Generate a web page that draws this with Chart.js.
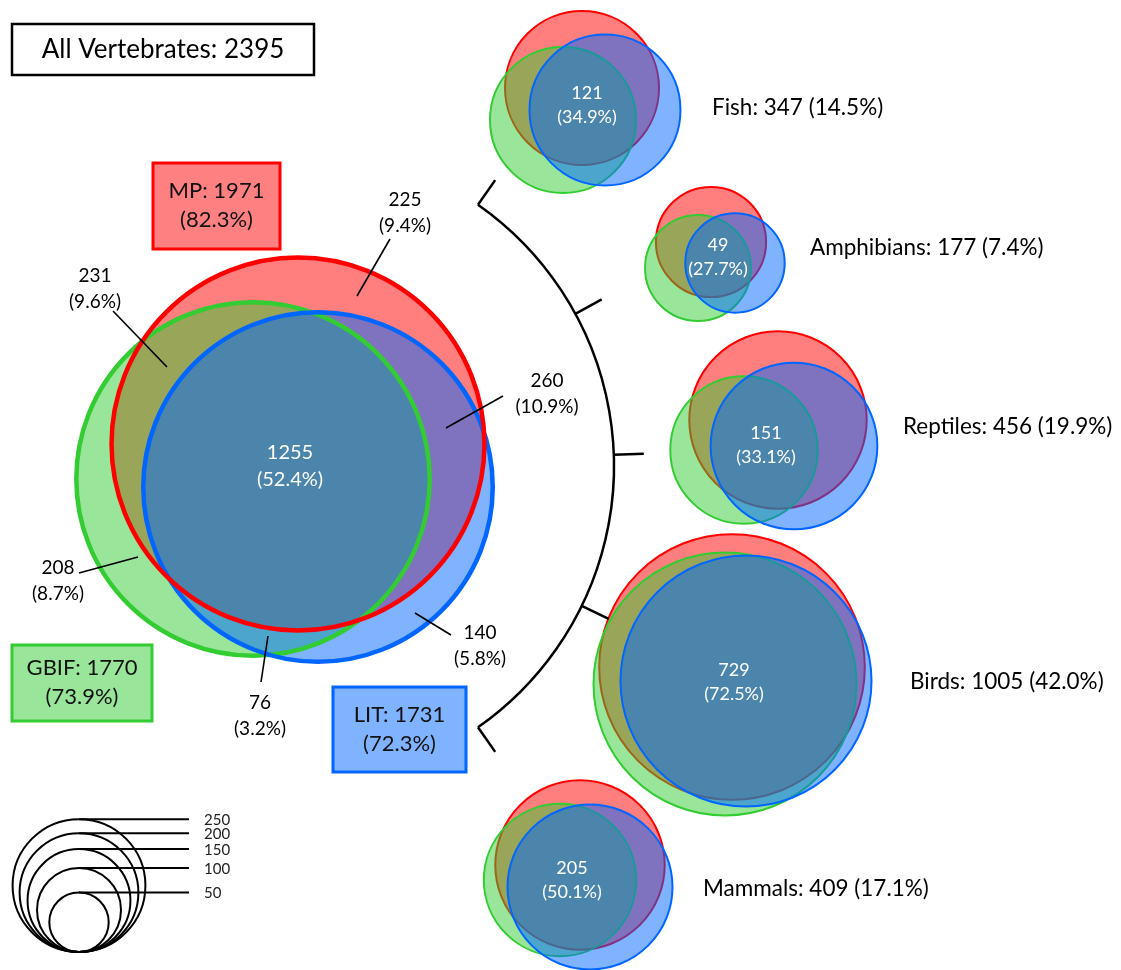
<!DOCTYPE html>
<html>
<head>
<meta charset="utf-8">
<title>Vertebrate species by data source</title>
<script src="https://cdn.jsdelivr.net/npm/chart.js@4/dist/chart.umd.min.js"></script>
<style>
  html, body { margin: 0; padding: 0; background: #fff; }
  #wrap { width: 1121px; height: 970px; position: relative; }
</style>
</head>
<body>
<div id="wrap"><canvas id="vennChart"></canvas></div>
<script>
// ---- data (species counts) ----
const groups = ["All Vertebrates", "Fish", "Amphibians", "Reptiles", "Birds", "Mammals"];
const totals = [2395, 347, 177, 456, 1005, 409];
const totalPct = [100, 14.5, 7.4, 19.9, 42.0, 17.1];
// per source counts, taxa values estimated from circle size
const mpCounts = [1971, 336, 172, 446, 1000, 407];
const gbifCounts = [1770, 302, 159, 308, 980, 329];
const litCounts = [1731, 323, 140, 394, 893, 386];
const allThree = [1255, 121, 49, 151, 729, 205];
const allThreePct = [52.4, 34.9, 27.7, 33.1, 72.5, 50.1];
const sourceNames = ["MP", "GBIF", "LIT"];
const sourcePct = [82.3, 73.9, 72.3];
// other regions of the big diagram: MP only, MP+GBIF, MP+LIT, GBIF only, GBIF+LIT, LIT only
const regionCounts = [225, 231, 260, 208, 76, 140];
const regionPct = [9.4, 9.6, 10.9, 8.7, 3.2, 5.8];
const legendSizes = [250, 200, 150, 100, 50];

// ---- layout (axes run 0..1121 / 0..970, one unit per pixel) ----
const K = 4.2; // units per sqrt(species), so circle area ~ count
const mpPos = [[298, 444], [582, 88], [711, 242], [778, 420], [732, 667], [580, 865]];
const gbifPos = [[253, 479], [563, 120], [698, 268], [744, 450], [725, 684], [560, 880]];
const litPos = [[318, 487], [605, 110], [735, 263], [794, 446], [746, 681], [590, 887]];
const centreLabelPos = [[290, 453], [587, 93], [718, 245], [766, 433], [734, 670], [572, 868]];
const taxonLabelPos = [null, [712, 108], [810, 248], [903, 427], [910, 682], [703, 889]];
const regionLabelPos = [[405, 200], [95, 276], [547, 381], [58, 568], [260, 703], [480, 633]];
const leaders = [
  [[390, 239], [357, 296]],
  [[113, 311], [167, 367]],
  [[503, 396], [446, 428]],
  [[79, 573], [138, 557]],
  [[261, 682], [268, 636]],
  [[415, 613], [451, 635]]
];
const boxes = [[153, 163, 127, 86], [12, 645, 140, 76], [333, 687, 133, 85]];
const legendX = 79, legendBottom = 952;

const RED = "rgb(255,0,0)", GREEN = "rgb(51,204,51)", BLUE = "rgb(0,102,255)";
const RED_A = "rgba(255,0,0,0.5)", GREEN_A = "rgba(51,204,51,0.5)", BLUE_A = "rgba(0,102,255,0.5)";
const FONT = "Lato, 'Open Sans', sans-serif";

// bubbles would otherwise pad the chart area by their radius; keep axes 1:1 with the canvas
Chart.controllers.bubble.prototype.getMaxOverflow = function () {
  return false;
};

const rOf = (n) => K * Math.sqrt(n);
const points = (pos, counts) => pos.map((p, i) => ({ x: p[0], y: p[1], r: rOf(counts[i]) }));

const fillSet = (label, pos, counts, fill, stroke, order) => ({
  label: label,
  data: points(pos, counts),
  backgroundColor: fill,
  borderColor: stroke,
  borderWidth: counts.map((c, i) => (i === 0 ? 0 : 2)),
  order: order
});

const outlineSet = (label, pos, count, stroke, order) => ({
  label: label,
  data: [{ x: pos[0], y: pos[1], r: rOf(count) }],
  backgroundColor: "rgba(0,0,0,0)",
  borderColor: stroke,
  borderWidth: 4.5,
  order: order
});

// text, boxes, leader lines and the bracket
const overlay = {
  id: "overlay",
  afterDatasetsDraw(chart) {
    const ctx = chart.ctx;
    const xs = chart.scales.x, ys = chart.scales.y;
    const X = (v) => xs.getPixelForValue(v), Y = (v) => ys.getPixelForValue(v);
    const len = (v) => Math.abs(X(v) - X(0));
    ctx.save();
    ctx.textAlign = "center";
    ctx.textBaseline = "middle";

    // title box
    ctx.lineWidth = 2.5;
    ctx.strokeStyle = "#000";
    ctx.strokeRect(X(12), Y(24), len(302), len(51));
    ctx.fillStyle = "#000";
    ctx.font = "26px " + FONT;
    ctx.fillText(groups[0] + ": " + totals[0], X(163), Y(50));

    // source boxes
    const counts = [mpCounts[0], gbifCounts[0], litCounts[0]];
    const fills = ["rgb(255,128,128)", "rgb(153,229,153)", "rgb(128,179,255)"];
    const strokes = [RED, GREEN, BLUE];
    boxes.forEach((b, i) => {
      ctx.fillStyle = fills[i];
      ctx.fillRect(X(b[0]), Y(b[1]), len(b[2]), len(b[3]));
      ctx.lineWidth = 3;
      ctx.strokeStyle = strokes[i];
      ctx.strokeRect(X(b[0]), Y(b[1]), len(b[2]), len(b[3]));
      ctx.fillStyle = "#111";
      ctx.font = "22px " + FONT;
      const cx = b[0] + b[2] / 2, cy = b[1] + b[3] / 2;
      ctx.fillText(sourceNames[i] + ": " + counts[i], X(cx), Y(cy - 15));
      ctx.fillText("(" + sourcePct[i].toFixed(1) + "%)", X(cx), Y(cy + 14));
    });

    // leader lines + region labels
    ctx.strokeStyle = "#000";
    ctx.lineWidth = 1.6;
    leaders.forEach((l) => {
      ctx.beginPath();
      ctx.moveTo(X(l[0][0]), Y(l[0][1]));
      ctx.lineTo(X(l[1][0]), Y(l[1][1]));
      ctx.stroke();
    });
    ctx.fillStyle = "#000";
    ctx.font = "19px " + FONT;
    regionCounts.forEach((v, i) => {
      const p = regionLabelPos[i];
      ctx.fillText(String(v), X(p[0]), Y(p[1]));
      ctx.fillText("(" + regionPct[i].toFixed(1) + "%)", X(p[0]), Y(p[1] + 26));
    });

    // centre labels (all three sources)
    ctx.fillStyle = "#fff";
    allThree.forEach((v, i) => {
      const p = centreLabelPos[i];
      const gap = i === 0 ? 27 : 24;
      ctx.font = (i === 0 ? "20px " : "18px ") + FONT;
      ctx.fillText(String(v), X(p[0]), Y(p[1]));
      ctx.fillText("(" + allThreePct[i].toFixed(1) + "%)", X(p[0]), Y(p[1] + gap));
    });

    // taxon labels
    ctx.fillStyle = "#000";
    ctx.textAlign = "left";
    ctx.font = "22.5px " + FONT;
    for (let i = 1; i < groups.length; i++) {
      const p = taxonLabelPos[i];
      ctx.fillText(groups[i] + ": " + totals[i] + " (" + totalPct[i].toFixed(1) + "%)", X(p[0]), Y(p[1]));
    }

    // bracket arc with ticks
    const bc = [295, 466], br = len(319), tick = len(30);
    const ticks = [-55, -28.5, -2, 26, 55];
    ctx.lineWidth = 2.5;
    ctx.strokeStyle = "#000";
    ctx.beginPath();
    ctx.arc(X(bc[0]), Y(bc[1]), br, -55 * Math.PI / 180, 55 * Math.PI / 180);
    ctx.stroke();
    ticks.forEach((a) => {
      const t = a * Math.PI / 180;
      ctx.beginPath();
      ctx.moveTo(X(bc[0]) + br * Math.cos(t), Y(bc[1]) + br * Math.sin(t));
      ctx.lineTo(X(bc[0]) + (br + tick) * Math.cos(t), Y(bc[1]) + (br + tick) * Math.sin(t));
      ctx.stroke();
    });

    // size legend lines + labels
    ctx.lineWidth = 2;
    ctx.font = "15px " + FONT;
    ctx.fillStyle = "#222";
    legendSizes.forEach((s) => {
      const top = Y(legendBottom - 2 * rOf(s));
      ctx.beginPath();
      ctx.moveTo(X(legendX), top);
      ctx.lineTo(X(189), top);
      ctx.stroke();
      ctx.fillText(String(s), X(204), top + 1);
    });
    ctx.restore();
  }
};

const ctx = document.getElementById("vennChart");

new Chart(ctx, {
  type: "bubble",
  data: {
    datasets: [
      fillSet("MP", mpPos, mpCounts, RED_A, RED, 12),
      fillSet("GBIF", gbifPos, gbifCounts, GREEN_A, GREEN, 11),
      fillSet("LIT", litPos, litCounts, BLUE_A, BLUE, 10),
      outlineSet("GBIF outline", gbifPos[0], gbifCounts[0], GREEN, 3),
      outlineSet("LIT outline", litPos[0], litCounts[0], BLUE, 2),
      outlineSet("MP outline", mpPos[0], mpCounts[0], RED, 1),
      {
        label: "Scale",
        data: legendSizes.map((s) => ({ x: legendX, y: legendBottom - rOf(s), r: rOf(s) })),
        backgroundColor: "rgba(0,0,0,0)",
        borderColor: "#000",
        borderWidth: 2,
        order: 0
      }
    ]
  },
  options: {
    responsive: true,
    maintainAspectRatio: false,
    animation: false,
    events: [],
    layout: { padding: 0 },
    scales: {
      x: { type: "linear", min: 0, max: 1121, display: false },
      y: { type: "linear", min: 0, max: 970, reverse: true, display: false }
    },
    plugins: {
      legend: { display: false },
      tooltip: { enabled: false }
    }
  },
  plugins: [overlay]
});
</script>
</body>
</html>
